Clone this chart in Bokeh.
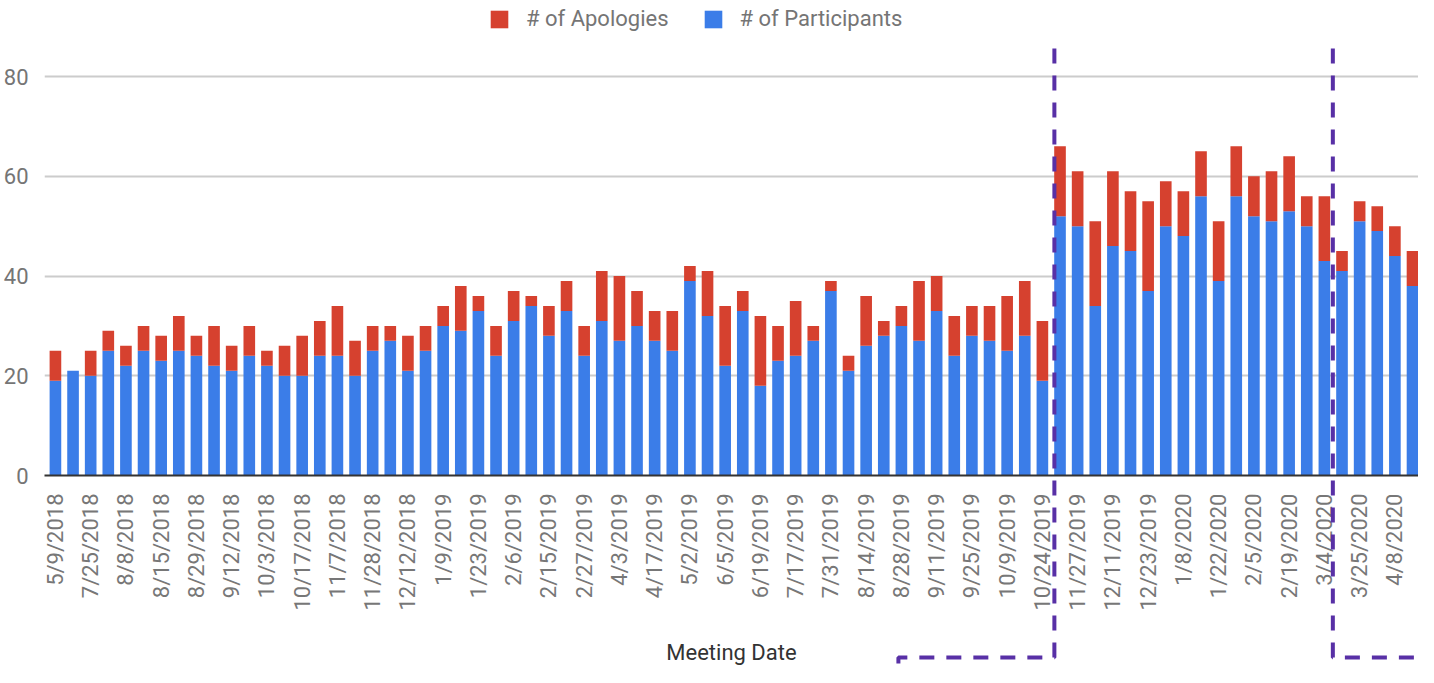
import math
from bokeh.plotting import figure
from bokeh.models import (Range1d, FixedTicker, Legend, LegendItem, ColumnDataSource)
from bokeh.embed import file_html
from bokeh.resources import INLINE

# ---------------- data ----------------
participants = [19, 21, 20, 25, 22, 25, 23, 25, 24, 22, 21, 24, 22, 20, 20, 24, 24, 20, 25, 27,
                21, 25, 30, 29, 33, 24, 31, 34, 28, 33, 24, 31, 27, 30, 27, 25, 39, 32, 22, 33,
                18, 23, 24, 27, 37, 21, 26, 28, 30, 27, 33, 24, 28, 27, 25, 28, 19,
                52, 50, 34, 46, 45, 37, 50, 48, 56, 39, 56, 52, 51, 53, 50, 43, 41, 51, 49, 44, 38]
apologies = [6, 0, 5, 4, 4, 5, 5, 7, 4, 8, 5, 6, 3, 6, 8, 7, 10, 7, 5, 3,
             7, 5, 4, 9, 3, 6, 6, 2, 6, 6, 6, 10, 13, 7, 6, 8, 3, 9, 12, 4,
             14, 7, 11, 3, 2, 3, 10, 3, 4, 12, 7, 8, 6, 7, 11, 11, 12,
             14, 11, 17, 15, 12, 18, 9, 9, 9, 12, 10, 8, 10, 11, 6, 13, 4, 4, 5, 6, 7]
tick_labels = ["5/9/2018", "7/25/2018", "8/8/2018", "8/15/2018", "8/29/2018", "9/12/2018",
               "10/3/2018", "10/17/2018", "11/7/2018", "11/28/2018", "12/12/2018", "1/9/2019",
               "1/23/2019", "2/6/2019", "2/15/2019", "2/27/2019", "4/3/2019", "4/17/2019",
               "5/2/2019", "6/5/2019", "6/19/2019", "7/17/2019", "7/31/2019", "8/14/2019",
               "8/28/2019", "9/11/2019", "9/25/2019", "10/9/2019", "10/24/2019", "11/27/2019",
               "12/11/2019", "12/23/2019", "1/8/2020", "1/22/2020", "2/5/2020", "2/19/2020",
               "3/4/2020", "3/25/2020", "4/8/2020"]
y_ticks = [0, 20, 40, 60, 80]
series_names = ["# of Participants", "# of Apologies"]

BLUE = "#3b7de8"
RED = "#d6412f"
PURPLE = "#5830a6"
FONT = "Roboto"

idx = list(range(len(participants)))
src = ColumnDataSource(dict(x=idx, participants=participants, apologies=apologies))

p = figure(width=1418, height=667, output_backend="svg", toolbar_location=None,
           x_range=Range1d(-0.62, 77.34), y_range=Range1d(0, 95.24),
           min_border_left=35, min_border_right=0, min_border_top=0, min_border_bottom=192)
p.outline_line_color = None
p.background_fill_color = "white"
p.border_fill_color = "white"

rs = p.vbar_stack(["participants", "apologies"], x="x", width=0.66, source=src,
                  color=[BLUE, RED], line_color=None)

# axes
xa = p.xaxis[0]
xa.ticker = FixedTicker(ticks=list(range(0, len(participants), 2)))
xa.major_label_overrides = {i * 2: lab for i, lab in enumerate(tick_labels)}
xa.major_label_orientation = math.pi / 2
xa.major_label_text_font = FONT
xa.major_label_text_font_size = "22px"
xa.major_label_text_color = "#777777"
xa.major_label_standoff = 12
xa.major_tick_line_color = None
xa.minor_tick_line_color = None
xa.axis_line_color = "#333333"
xa.axis_line_width = 2
xa.axis_label = "Meeting Date"
xa.axis_label_text_font = FONT
xa.axis_label_text_font_style = "normal"
xa.axis_label_text_font_size = "22px"
xa.axis_label_text_color = "#333333"
xa.axis_label_standoff = 26

ya = p.yaxis[0]
ya.ticker = FixedTicker(ticks=y_ticks)
ya.major_label_text_font = FONT
ya.major_label_text_font_size = "22px"
ya.major_label_text_color = "#757575"
ya.major_label_standoff = 10
ya.axis_line_color = None
ya.major_tick_line_color = None
ya.minor_tick_line_color = None

p.xgrid.grid_line_color = None
p.ygrid.grid_line_color = "#cccccc"
p.ygrid.grid_line_width = 2

legend = Legend(items=[LegendItem(label=series_names[1], renderers=[rs[1]]),
                       LegendItem(label=series_names[0], renderers=[rs[0]])],
                orientation="horizontal", location=(444, 444),
                label_text_font=FONT, label_text_font_size="22px", label_text_color="#757575",
                glyph_width=22, glyph_height=22, label_standoff=16, spacing=33,
                padding=0, margin=0, border_line_color=None, background_fill_alpha=0)
p.add_layout(legend, "center")

# hand-drawn dashed annotation outline (drawn at overlay level so it may leave the frame)
ann_xs = [[56.68, 56.68, 47.83, 47.83], [72.48, 72.48, 78.5]]
ann_ys = [[85.6, -36.5, -36.5, -44.0], [85.6, -36.5, -36.5]]
p.multi_line(xs=ann_xs, ys=ann_ys, line_color=PURPLE, line_width=4,
             line_dash="15 12", level="overlay")

open("out.html", "w").write(file_html(p, INLINE))
